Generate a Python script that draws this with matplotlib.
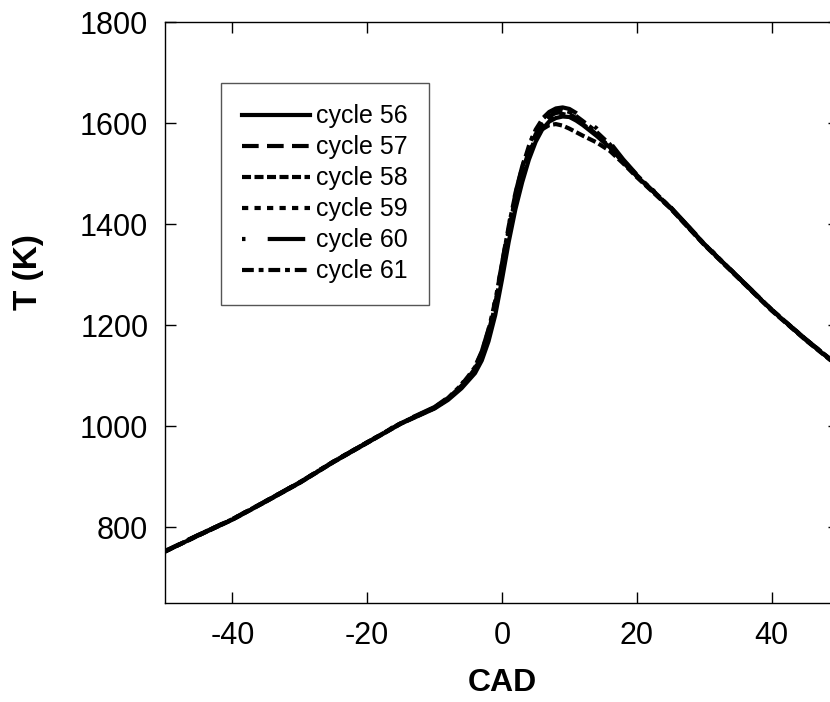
import matplotlib
matplotlib.use('Agg')
import matplotlib.pyplot as plt

###############################################################
####    data
###############################################################
cad = [-50, -45, -40, -35, -30, -25, -20, -15, -10, -8, -6, -5, -4, -3, -2, -1,
       0, 1, 2, 3, 4, 5, 6, 7, 8, 9, 10, 11, 12, 14, 16, 18, 20, 25, 30, 35, 40, 45, 50]

cycle56 = [752, 784, 815, 851, 888, 929, 967, 1005, 1035, 1052, 1075, 1090, 1105, 1130, 1168, 1220,
           1290, 1365, 1430, 1483, 1528, 1563, 1588, 1603, 1610, 1613, 1612, 1605, 1596, 1575, 1552, 1522,
           1495, 1432, 1360, 1295, 1230, 1172, 1118]
cycle57 = [753, 785, 816, 852, 889, 930, 968, 1006, 1037, 1055, 1080, 1096, 1114, 1142, 1185, 1242,
           1315, 1390, 1452, 1503, 1545, 1578, 1600, 1614, 1620, 1622, 1618, 1610, 1600, 1578, 1555, 1524,
           1496, 1433, 1361, 1295, 1231, 1172, 1119]
cycle58 = [752, 784, 815, 851, 888, 929, 967, 1005, 1036, 1054, 1079, 1095, 1112, 1140, 1182, 1240,
           1312, 1388, 1450, 1500, 1540, 1570, 1588, 1596, 1598, 1595, 1589, 1582, 1575, 1562, 1545, 1520,
           1493, 1431, 1359, 1294, 1229, 1171, 1117]
cycle59 = [752, 784, 816, 852, 889, 930, 968, 1006, 1036, 1054, 1078, 1094, 1111, 1138, 1180, 1236,
           1308, 1383, 1446, 1497, 1540, 1574, 1597, 1610, 1616, 1618, 1615, 1608, 1598, 1577, 1553, 1523,
           1495, 1432, 1360, 1295, 1230, 1172, 1118]
cycle60 = [753, 785, 816, 852, 889, 930, 968, 1007, 1038, 1057, 1083, 1100, 1118, 1148, 1192, 1250,
           1322, 1398, 1462, 1514, 1556, 1588, 1609, 1622, 1629, 1631, 1628, 1620, 1610, 1590, 1562, 1528,
           1498, 1434, 1362, 1296, 1231, 1173, 1119]
cycle61 = [752, 785, 816, 852, 889, 930, 968, 1006, 1037, 1056, 1082, 1099, 1117, 1146, 1190, 1248,
           1320, 1396, 1460, 1512, 1555, 1587, 1608, 1620, 1626, 1626, 1622, 1614, 1604, 1583, 1558, 1526,
           1497, 1433, 1361, 1296, 1231, 1173, 1119]

labels = ['cycle 56', 'cycle 57', 'cycle 58', 'cycle 59', 'cycle 60', 'cycle 61']
xticks = [-40, -20, 0, 20, 40]
yticks = [800, 1000, 1200, 1400, 1600, 1800]

###############################################################
####    styles
###############################################################
plt.rcParams['font.family'] = ['Liberation Sans', 'DejaVu Sans']
plt.rcParams['lines.scale_dashes'] = False
plt.rcParams['axes.unicode_minus'] = False

styles = ['-',
          (0, (12, 6)),
          (0, (6.5, 2.5)),
          (0, (4.5, 4.5)),
          (0, (2.5, 16, 27, 16)),
          (0, (8.5, 3.5, 3.5, 3.5))]

###############################################################
####    plot
###############################################################
fig = plt.figure(figsize=(8.3, 7.02), dpi=100)
ax = fig.add_axes([0.1988, 0.141, 0.812, 0.8276])

series = [cycle56, cycle57, cycle58, cycle59, cycle60, cycle61]
for vals, ls, lab in zip(series, styles, labels):
    ax.plot(cad, vals, color='black', lw=3, linestyle=ls, label=lab)

ax.set_xlim(-50, 50)
ax.set_ylim(650, 1800)
ax.set_xticks(xticks)
ax.set_yticks(yticks)
ax.tick_params(axis='both', direction='in', length=8, width=1, top=True, right=True,
               labelsize=22)
ax.tick_params(axis='x', pad=13)
ax.tick_params(axis='y', pad=12)
for sp in ax.spines.values():
    sp.set_linewidth(1)

ax.set_xlabel('CAD', fontsize=23, fontweight='bold', labelpad=12)
ax.set_ylabel('T (K)', fontsize=24, fontweight='bold')
ax.yaxis.set_label_coords(-0.18, 0.57)

leg = ax.legend(loc='upper left', bbox_to_anchor=(0.083, 0.895), borderaxespad=0,
                fontsize=18, handlelength=2.7, handletextpad=0.24, labelspacing=0.28,
                borderpad=0.85, fancybox=False, framealpha=1)
leg.get_frame().set_edgecolor('#555555')
leg.get_frame().set_linewidth(1)

fig.savefig('out.png', dpi=100)
